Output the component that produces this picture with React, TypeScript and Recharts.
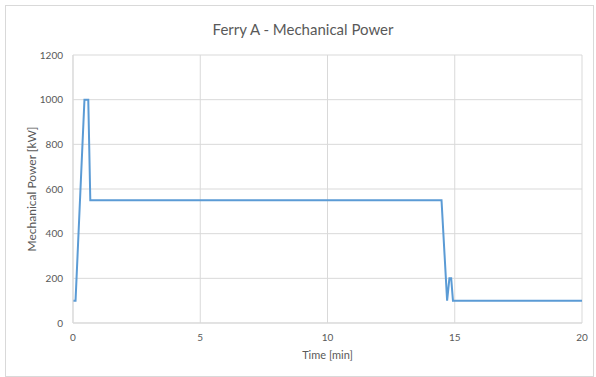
import { LineChart, Line, XAxis, YAxis, CartesianGrid } from "recharts";

// time [min] and mechanical power [kW]
const times = [0, 0.1, 0.45, 0.6, 0.68, 14.48, 14.7, 14.79, 14.86, 14.93, 20];
const power = [100, 100, 1000, 1000, 550, 550, 100, 200, 200, 100, 100];

const xTicks = [0, 5, 10, 15, 20];
const yTicks = [0, 200, 400, 600, 800, 1000, 1200];

const data = times.map((t, i) => ({ t, p: power[i] }));

const font = "Lato, 'Open Sans', sans-serif";
const grey = "#595959";

export default function App() {
  return (
    <div style={{ position: "absolute", left: 0, top: 0, width: 596, height: 377, background: "#fff", fontFamily: font }}>
      <div
        style={{
          position: "absolute",
          left: 5,
          top: 5,
          width: 587,
          height: 370,
          border: "1px solid #d9d9d9",
        }}
      />
      <div
        style={{
          position: "absolute",
          left: 0,
          top: 20,
          width: 606,
          textAlign: "center",
          fontSize: 15,
          color: grey,
        }}
      >
        Ferry A - Mechanical Power
      </div>
      <LineChart
        width={596}
        height={377}
        data={data}
        margin={{ top: 55, right: 14, bottom: 24, left: 13 }}
        style={{ position: "absolute", left: 0, top: 0 }}
      >
        <CartesianGrid stroke="#d9d9d9" strokeWidth={1} />
        <XAxis
          dataKey="t"
          type="number"
          domain={[0, 20]}
          ticks={xTicks}
          tickLine={false}
          tickMargin={5}
          axisLine={{ stroke: "#d9d9d9" }}
          height={30}
          tick={{ fontSize: 10, fill: grey, fontFamily: font }}
          label={{ value: "Time [min]", position: "insideBottom", offset: -6, fontSize: 11, fill: grey, fontFamily: font }}
        />
        <YAxis
          type="number"
          domain={[0, 1200]}
          ticks={yTicks}
          tickLine={false}
          tickMargin={4}
          axisLine={{ stroke: "#d9d9d9" }}
          width={60}
          tick={{ fontSize: 10, fill: grey, fontFamily: font }}
          label={{
            value: "Mechanical Power [kW]",
            angle: -90,
            position: "insideLeft",
            offset: 19,
            style: { textAnchor: "middle" },
            fontSize: 12,
            fill: grey,
            fontFamily: font,
          }}
        />
        <Line
          type="linear"
          dataKey="p"
          stroke="#5b9bd5"
          strokeWidth={2}
          dot={false}
          isAnimationActive={false}
        />
      </LineChart>
    </div>
  );
}
